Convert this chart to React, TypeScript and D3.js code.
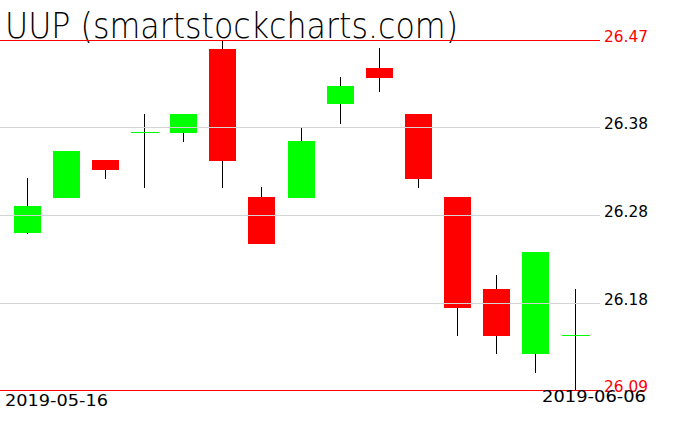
import React from 'react';
import * as d3 from 'd3';

const dates = ['2019-05-16','2019-05-17','2019-05-20','2019-05-21','2019-05-22','2019-05-23','2019-05-24','2019-05-28','2019-05-29','2019-05-30','2019-05-31','2019-06-03','2019-06-04','2019-06-05','2019-06-06'];
const opens = [26.26, 26.299, 26.34, 26.37, 26.369, 26.46, 26.2995, 26.2988, 26.40, 26.4396, 26.3897, 26.30, 26.1997, 26.1294, 26.1494];
const highs = [26.32, 26.35, 26.34, 26.3897, 26.39, 26.47, 26.3104, 26.3752, 26.4298, 26.4613, 26.39, 26.30, 26.2145, 26.24, 26.20];
const lows = [26.2597, 26.2988, 26.3194, 26.3096, 26.3596, 26.3096, 26.2488, 26.2985, 26.3791, 26.4139, 26.3096, 26.149, 26.1294, 26.1088, 26.09];
const closes = [26.2898, 26.3495, 26.3289, 26.37, 26.3897, 26.339, 26.2488, 26.3603, 26.42, 26.4291, 26.3194, 26.1794, 26.149, 26.2398, 26.1494];

const tickValues = [26.47, 26.375, 26.28, 26.185, 26.09];
const tickLabels = ['26.47', '26.38', '26.28', '26.18', '26.09'];
const title = 'UUP (smartstockcharts.com)';

export default function App() {
  const W = 676, H = 431;
  const x = d3.scalePoint<string>().domain(dates).range([26.5, 574.5]);
  const y = d3.scaleLinear().domain([26.09, 26.47]).range([390, 40]);
  const bw = 27;
  const font = '"DejaVu Sans", sans-serif';
  const extremes = [tickValues[0], tickValues[tickValues.length - 1]];

  return (
    <svg width={W} height={H} style={{ position: 'absolute', left: 0, top: 0, background: '#fff' }}>
      <rect x={0} y={0} width={W} height={H} fill="#fff" />
      <text x={5} y={38} fontFamily={font} fontWeight={200} fontSize={36} textLength={453} lengthAdjust="spacingAndGlyphs" fill="#000">{title}</text>
      {dates.map((d, i) => {
        const cx = Math.round(x(d)!) + 0.5;
        const o = opens[i], c = closes[i];
        const up = c >= o;
        const top = y(Math.max(o, c));
        const bot = y(Math.min(o, c));
        const col = up ? '#00ff00' : '#ff0000';
        return (
          <g key={d} shapeRendering="crispEdges">
            <line x1={cx} x2={cx} y1={y(highs[i])} y2={y(lows[i])} stroke="#000" strokeWidth={1} />
            {bot - top < 1.5 ? (
              <line x1={cx - bw / 2 - 0.5} x2={cx + bw / 2 + 0.5} y1={Math.round(top) + 0.5} y2={Math.round(top) + 0.5} stroke={col} strokeWidth={1} />
            ) : (
              <rect x={cx - 0.5 - bw / 2} y={top} width={bw} height={bot - top} fill={col} />
            )}
          </g>
        );
      })}
      {tickValues.map((v, i) => {
        const isExt = extremes.includes(v);
        const yy = Math.round(y(v)) + 0.5;
        return (
          <g key={v}>
            <line x1={0} x2={600} y1={yy} y2={yy} stroke={isExt ? '#ff0000' : '#d3d3d3'} strokeWidth={1} shapeRendering="crispEdges" />
            <text x={604} y={Math.round(y(v)) + 1.5} fontFamily={font} fontSize={15} textLength={44} lengthAdjust="spacingAndGlyphs" fill={isExt ? '#ff0000' : '#000'}>{tickLabels[i]}</text>
          </g>
        );
      })}
      <text x={5} y={406} fontFamily={font} fontSize={15} textLength={103} lengthAdjust="spacingAndGlyphs" fill="#000">{dates[0]}</text>
      <text x={542} y={402} fontFamily={font} fontSize={15} textLength={104} lengthAdjust="spacingAndGlyphs" fill="#000">{dates[dates.length - 1]}</text>
    </svg>
  );
}
